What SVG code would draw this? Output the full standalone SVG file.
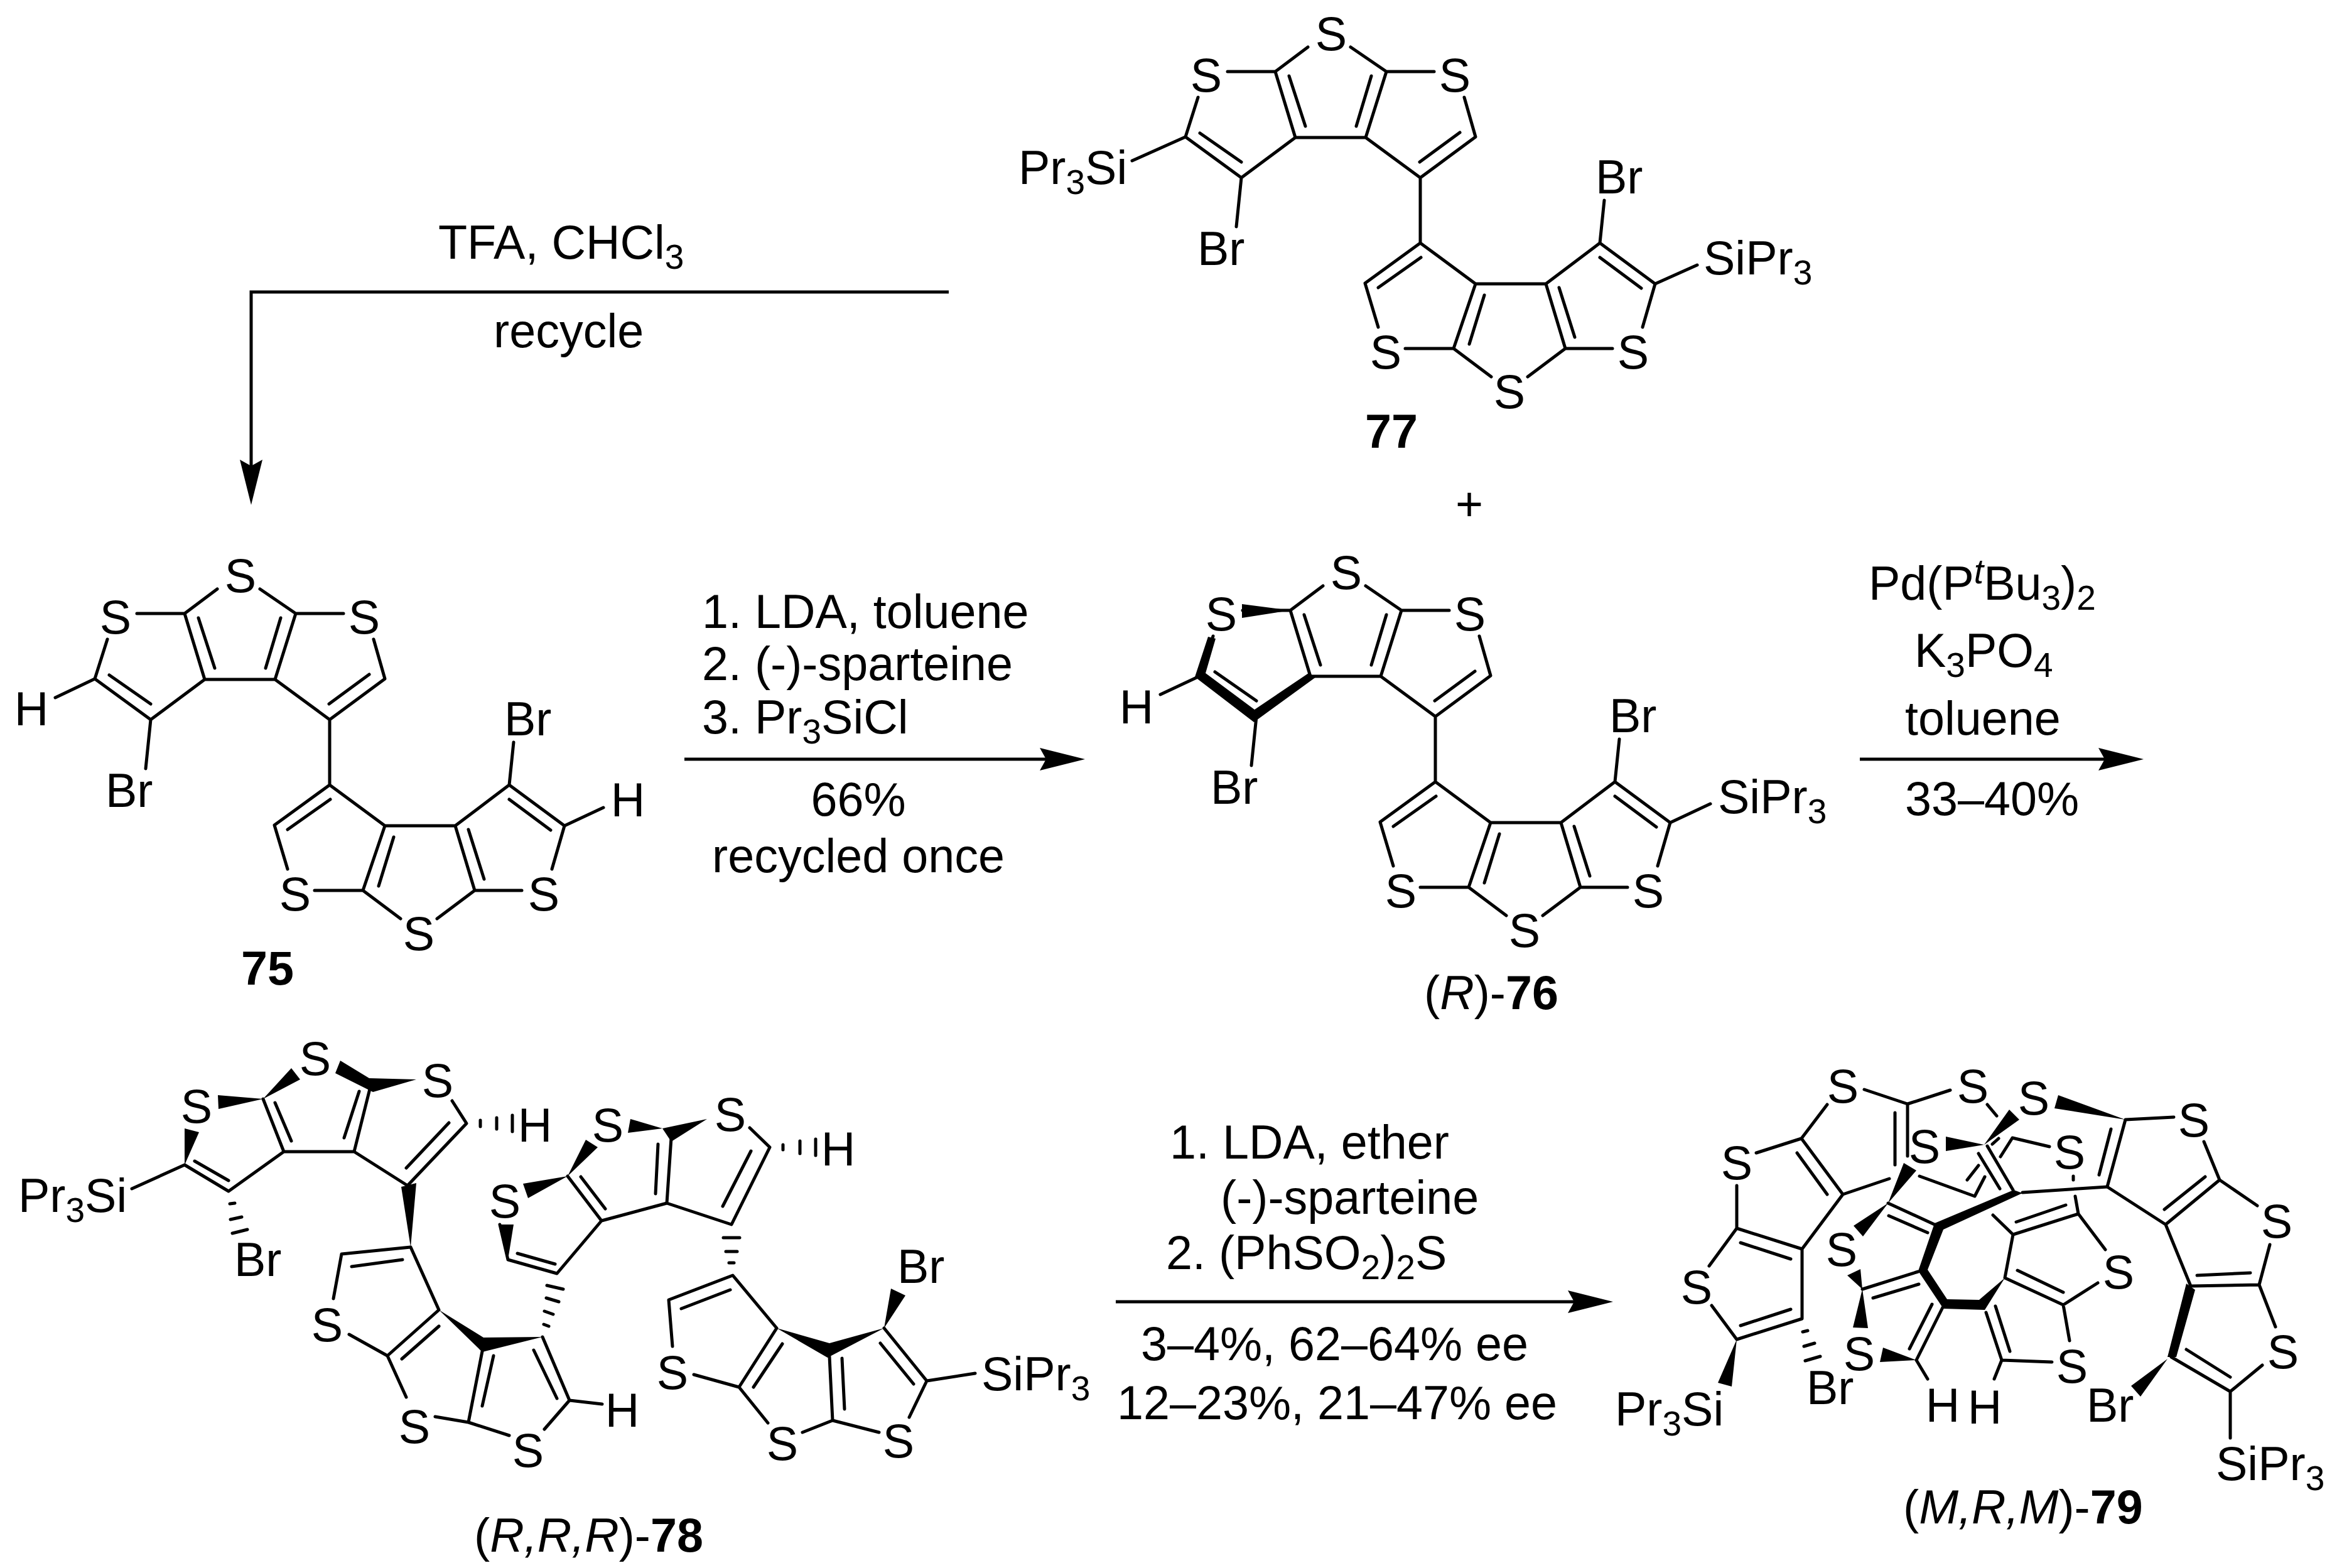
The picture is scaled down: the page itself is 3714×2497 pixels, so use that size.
<svg xmlns="http://www.w3.org/2000/svg" width="3714" height="2497" viewBox="0 0 3714 2497">
<style>
.t{font-family:"Liberation Sans",Arial,sans-serif;font-size:75.5px;fill:#000}
.m{text-anchor:middle}
.s{font-size:55px}
.i{font-style:italic}
.n{font-weight:bold}
.b{fill:none;stroke:#000;stroke-width:5;stroke-linecap:round;stroke-linejoin:round}
.w{fill:#000;stroke:none}
.a{fill:none;stroke:#000;stroke-width:5}
</style>
<defs>
<marker id="arrow" markerUnits="userSpaceOnUse" markerWidth="74" markerHeight="38" refX="11" refY="19" orient="auto"><path d="M1,1L73,19L1,37L11,19Z" fill="#000"/></marker>
<path id="unit" class="b" d="M2083,75L2031,114L2063,219L2175,219L2208,114L2151,75M1955,114L2031,114M2284,114L2208,114M2053,121L2079,201M2184,121L2160,201M1908,155L1888,218L1977,283L2063,219M1911,212L1977,258M2332,155L2350,218L2262,283L2175,219M2325,211L2261,258M2262,283L2262,387M1977,283L1969,361M2195,521L2174,451L2262,387L2350,452L2462,452L2548,387L2636,452L2616,521M2263,410L2195,458M2238,555L2315,555L2350,452M2364,470L2340,548M2315,555L2375,600M2433,600L2493,555L2462,452M2483,458L2508,537M2493,555L2568,555M2548,410L2614,459M2548,387L2555,319"/>
</defs>
<rect width="3714" height="2497" fill="#fff"/>

<g id="connectors">
<path class="a" d="M1511,465H400V742" marker-end="url(#arrow)"/>
<path class="a" d="M1090,1209H1666" marker-end="url(#arrow)"/>
<path class="a" d="M2962,1209H3352" marker-end="url(#arrow)"/>
<path class="a" d="M1777,2073H2507" marker-end="url(#arrow)"/>
</g>

<g id="reagents-recycle">
<text class="t" x="698" y="412">TFA, CHCl<tspan class="s" dy="16">3</tspan></text>
<text class="t" x="786" y="553">recycle</text>
</g>
<g id="reagents-1">
<text class="t" x="1118" y="1000">1. LDA, toluene</text>
<text class="t" x="1118" y="1083">2. (-)-sparteine</text>
<text class="t" x="1118" y="1168">3. Pr<tspan class="s" dy="16">3</tspan><tspan dy="-16">SiCl</tspan></text>
<text class="t m" x="1367" y="1299">66%</text>
<text class="t m" x="1367" y="1389">recycled once</text>
</g>
<g id="reagents-2">
<text class="t" x="2976" y="955">Pd(P<tspan class="s i" dy="-26">t</tspan><tspan dy="26">Bu</tspan><tspan class="s" dy="16">3</tspan><tspan dy="-16">)</tspan><tspan class="s" dy="16">2</tspan></text>
<text class="t" x="3049" y="1062">K<tspan class="s" dy="16">3</tspan><tspan dy="-16">PO</tspan><tspan class="s" dy="16">4</tspan></text>
<text class="t" x="3034" y="1170">toluene</text>
<text class="t" x="3034" y="1298">33–40%</text>
</g>
<g id="reagents-3">
<text class="t" x="1863" y="1845">1. LDA, ether</text>
<text class="t" x="1944" y="1933">(-)-sparteine</text>
<text class="t" x="1857" y="2021">2. (PhSO<tspan class="s" dy="16">2</tspan><tspan dy="-16">)</tspan><tspan class="s" dy="16">2</tspan><tspan dy="-16">S</tspan></text>
<text class="t" x="1817" y="2166">3–4%, 62–64% ee</text>
<text class="t" x="1779" y="2260">12–23%, 21–47% ee</text>
</g>
<text id="plus" class="t m" x="2340" y="829">+</text>

<g id="compound-77">
<use href="#unit"/>
<path class="b" d="M1803,256L1888,218M2636,452L2703,422"/>
<text class="t m" x="2120" y="80">S</text><text class="t m" x="1921" y="146">S</text><text class="t m" x="2317" y="146">S</text>
<text class="t m" x="2207" y="587">S</text><text class="t m" x="2601" y="587">S</text><text class="t m" x="2404" y="650">S</text>
<text class="t" x="1907" y="422">Br</text><text class="t" x="2541" y="308">Br</text>
<text class="t" x="1622" y="293">Pr<tspan class="s" dy="16">3</tspan><tspan dy="-16">Si</tspan></text>
<text class="t" x="2713" y="437">SiPr<tspan class="s" dy="16">3</tspan></text>
<text class="t n" x="2174" y="713">77</text>
</g>

<g id="compound-75">
<use href="#unit" transform="translate(-1737,863)"/>
<path class="b" d="M88,1111L151,1081M899,1315L961,1286"/>
<text class="t m" x="383" y="943">S</text><text class="t m" x="184" y="1009">S</text><text class="t m" x="580" y="1009">S</text>
<text class="t m" x="470" y="1450">S</text><text class="t m" x="866" y="1450">S</text><text class="t m" x="667" y="1513">S</text>
<text class="t" x="168" y="1285">Br</text><text class="t" x="803" y="1171">Br</text>
<text class="t m" x="50" y="1155">H</text><text class="t m" x="1000" y="1300">H</text>
<text class="t n" x="384" y="1568">75</text>
</g>

<g id="compound-76">
<use href="#unit" transform="translate(24,858)"/>
<path class="b" d="M1848,1106L1912,1076M2660,1310L2724,1280"/>
<path class="w" d="M1924,1014L1936,1017L1920,1072L1998,1130L2084,1072L2096,1078L1997,1150L1903,1078ZM2055,972L1978,962L1978,984Z"/>
<text class="t m" x="2144" y="938">S</text><text class="t m" x="1945" y="1004">S</text><text class="t m" x="2341" y="1004">S</text>
<text class="t m" x="2231" y="1445">S</text><text class="t m" x="2625" y="1445">S</text><text class="t m" x="2428" y="1508">S</text>
<text class="t" x="1928" y="1280">Br</text><text class="t" x="2563" y="1166">Br</text>
<text class="t m" x="1810" y="1152">H</text>
<text class="t" x="2736" y="1295">SiPr<tspan class="s" dy="16">3</tspan></text>
<text class="t" x="2268" y="1607">(<tspan class="i">R</tspan>)-<tspan class="n">76</tspan></text>
</g>

<g id="compound-78">
<path class="b" d="M210,1893L294,1855L364,1897L452,1834L419,1750M310,1849L364,1880M438,1756L464,1817M452,1834L564,1834L591,1726M572,1738L548,1812M564,1834L649,1888L743,1789L720,1753M715,1788L647,1860M531,2068L544,1997L654,1986L699,2086L617,2159L556,2125M641,2006L560,2017M699,2112L640,2164M617,2159L647,2225M693,2256L746,2265L768,2152M768,2239L786,2159M746,2265L811,2286M867,2276L907,2230L864,2129M850,2150L887,2227M907,2230L959,2236"/>
<path class="b" d="M809,2006L887,2028L958,1944L904,1873M824,1996L884,2013M925,1874L964,1925M958,1944L1062,1916L1069,1812M1048,1822L1044,1901M1062,1916L1165,1950L1226,1827L1194,1796M1196,1833L1151,1921M809,2006L796,1950"/>
<path class="b" d="M1071,2144L1065,2070L1167,2031L1237,2115L1177,2209L1105,2189M1163,2054L1085,2084M1246,2140L1200,2209M1177,2209L1223,2266M1278,2281L1326,2262L1321,2160M1326,2262L1400,2281M1341,2163L1345,2244M1408,2115L1476,2199L1448,2257M1402,2139L1455,2204M1476,2199L1553,2187"/>
<path class="w" d="M419,1750L347,1744L348,1766ZM419,1750L464,1701L478,1719ZM588,1717L542,1689L534,1709L594,1739ZM663,1719L588,1717L594,1739ZM294,1855L294,1797L317,1803ZM639,1890L663,1884L654,1986ZM699,2086L770,2130L864,2129L768,2153ZM904,1873L833,1885L841,1908ZM809,2006L795,1950L818,1950ZM904,1873L933,1815L952,1827ZM1055,1797L1004,1782L1000,1804ZM1126,1782L1055,1797L1069,1818ZM1237,2115L1321,2139L1408,2115L1318,2162ZM1408,2115L1419,2052L1442,2063Z"/>
<path class="b" d="M366,1917L374,1916M367,1942L385,1938M370,1964L394,1958M765,1784V1794M791,1780V1798M816,1776V1802M1247,1823V1831M1274,1817V1837M1299,1814V1840M1152,1971H1178M1156,1993H1174M1161,2011H1169M871,2047L897,2053M870,2067L890,2073M867,2088L881,2093M866,2109L874,2112"/>
<text class="t m" x="313" y="1788">S</text><text class="t m" x="502" y="1712">S</text><text class="t m" x="697" y="1747">S</text><text class="t m" x="521" y="2136">S</text><text class="t m" x="660" y="2298">S</text><text class="t m" x="841" y="2336">S</text>
<text class="t m" x="804" y="1939">S</text><text class="t m" x="968" y="1818">S</text><text class="t m" x="1163" y="1801">S</text>
<text class="t m" x="1071" y="2212">S</text><text class="t m" x="1246" y="2325">S</text><text class="t m" x="1431" y="2321">S</text>
<text class="t" x="373" y="2032">Br</text><text class="t" x="1429" y="2043">Br</text>
<text class="t m" x="852" y="1818">H</text><text class="t m" x="1335" y="1856">H</text><text class="t m" x="991" y="2272">H</text>
<text class="t" x="29" y="1930">Pr<tspan class="s" dy="16">3</tspan><tspan dy="-16">Si</tspan></text>
<text class="t" x="1563" y="2214">SiPr<tspan class="s" dy="16">3</tspan></text>
<text class="t" x="755" y="2471">(<tspan class="i">R,R,R</tspan>)-<tspan class="n">78</tspan></text>
</g>

<g id="compound-79">
<path class="b" d="M2910,1759L2869,1813L2935,1902L2870,1989L2766,1956L2722,2016M2797,1836L2869,1813M2862,1836L2910,1902M2935,1902L3009,1877M2969,1735L3038,1758L3106,1736M3038,1758V1841M3018,1772V1855M2772,1979L2852,2005M2766,1956V1888M2870,1989V2100L2766,2133L2726,2079M2772,2111L2852,2085"/>
<path class="b" d="M3057,1873L3145,1905L3161,1874M3133,1879L3151,1856M3007,1916L3081,1950M3008,1936L3070,1963M3165,1825L3206,1895M3151,1837L3185,1893M3173,1822L3183,1813M3186,1842L3205,1812L3264,1826M3165,1759L3180,1777M3221,1899L3356,1890M3302,1873V1879M3305,1905L3310,1933L3206,1966L3174,1935M3290,1919L3211,1946M3310,1933L3353,1990M3206,1966L3193,2035L3286,2078L3341,2043M3213,2023L3286,2058M3286,2078L3296,2135"/>
<path class="b" d="M3055,2025L2966,2053M2983,2067L3056,2045M3094,2082L3052,2166L3070,2196M3077,2077L3041,2148M3163,2090L3188,2166L3176,2196M3178,2080L3201,2152M3188,2166L3268,2169"/>
<path class="b" d="M3356,1890L3385,1783L3462,1779M3343,1871L3362,1798M3510,1818L3535,1879L3449,1950L3356,1890M3512,1874L3447,1926M3535,1879L3595,1920M3449,1950L3489,2048L3598,2046L3615,1982M3499,2031L3584,2027M3598,2046L3624,2113M3458,2161L3552,2216L3603,2174M3482,2149L3552,2193M3552,2216V2290"/>
<path class="b" d="M2871,2121L2879,2119M2873,2144L2890,2139M2875,2167L2899,2160"/>
<path class="w" d="M3081,1948L3207,1895L3221,1900L3095,1958L3070,2022L3101,2069L3152,2070L3193,2035L3161,2086L3095,2084L3055,2024ZM3007,1916L3032,1852L3052,1864ZM3007,1916L2952,1952L2967,1969ZM3160,1823L3099,1810L3099,1833ZM3160,1823L3200,1767L3216,1783ZM2966,2053L2942,2031L2963,2021ZM2966,2053L2951,2114L2975,2115ZM3052,2166L2999,2146L2994,2169ZM3385,1783L3278,1744L3272,1765ZM3482,2044L3496,2054L3466,2161L3452,2161ZM3452,2164L3394,2207L3409,2224ZM2766,2133L2736,2202L2758,2208Z"/>
<text class="t m" x="2766" y="1878">S</text><text class="t m" x="2935" y="1756">S</text><text class="t m" x="3142" y="1756">S</text><text class="t m" x="2702" y="2076">S</text><text class="t m" x="2933" y="2016">S</text><text class="t m" x="3065" y="1852">S</text>
<text class="t m" x="3296" y="1861">S</text><text class="t m" x="2961" y="2182">S</text><text class="t m" x="3374" y="2052">S</text><text class="t m" x="3300" y="2202">S</text><text class="t m" x="3239" y="1775">S</text><text class="t m" x="3494" y="1810">S</text><text class="t m" x="3626" y="1971">S</text><text class="t m" x="3636" y="2179">S</text>
<text class="t" x="2877" y="2236">Br</text><text class="t" x="3323" y="2264">Br</text>
<text class="t m" x="3094" y="2264">H</text><text class="t m" x="3161" y="2267">H</text>
<text class="t" x="2572" y="2270">Pr<tspan class="s" dy="16">3</tspan><tspan dy="-16">Si</tspan></text>
<text class="t" x="3529" y="2357">SiPr<tspan class="s" dy="16">3</tspan></text>
<text class="t" x="3031" y="2426">(<tspan class="i">M,R,M</tspan>)-<tspan class="n">79</tspan></text>
</g>
</svg>
